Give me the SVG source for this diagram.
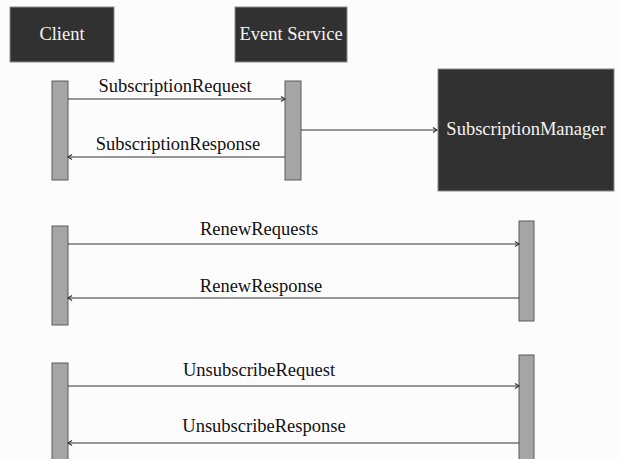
<svg xmlns="http://www.w3.org/2000/svg" width="620" height="459" viewBox="0 0 620 459">
<style>
.box{fill:#313131;stroke:#8a8a8a;stroke-width:1}
.bar{fill:#a5a5a5;stroke:#5a5a5a;stroke-width:1}
.wt{fill:#f4f4f4;font-family:"Liberation Serif",serif;font-size:18.5px;text-anchor:middle}
.lbl{fill:#111;font-family:"Liberation Serif",serif;font-size:18.5px;text-anchor:middle}
.msg{stroke:#333;stroke-width:1.2;fill:none;marker-end:url(#ah)}
</style>
<defs>
<marker id="ah" viewBox="0 0 8 8" refX="7" refY="4" markerWidth="8" markerHeight="8" markerUnits="userSpaceOnUse" orient="auto">
<polyline points="3,1.5 7,4 3,6.5" fill="none" stroke="#333" stroke-width="1.2"/>
</marker>
</defs>
<rect width="620" height="459" fill="#fcfcfc"/>
<g id="client">
<rect class="box" x="10" y="7" width="104" height="55"/>
<text class="wt" x="62" y="40">Client</text>
</g>
<g id="event-service">
<rect class="box" x="235" y="7" width="112" height="55"/>
<text class="wt" x="291" y="40">Event Service</text>
</g>
<g id="subscription-manager">
<rect class="box" x="438" y="69" width="176" height="122"/>
<text class="wt" x="526" y="135">SubscriptionManager</text>
</g>
<g id="client-bar-1"><rect class="bar" x="52" y="81" width="16" height="99"/></g>
<g id="es-bar-1"><rect class="bar" x="285" y="81" width="16" height="99"/></g>
<g id="client-bar-2"><rect class="bar" x="52" y="226" width="16" height="99"/></g>
<g id="sm-bar-2"><rect class="bar" x="519" y="221" width="15" height="100"/></g>
<g id="client-bar-3"><rect class="bar" x="52" y="363" width="16" height="100"/></g>
<g id="sm-bar-3"><rect class="bar" x="519" y="355" width="15" height="108"/></g>
<g id="connectors">
<line class="msg" x1="68" y1="99" x2="285" y2="99"/>
<line class="msg" x1="285" y1="157" x2="68" y2="157"/>
<line class="msg" x1="301" y1="130" x2="437" y2="130"/>
<line class="msg" x1="68" y1="244" x2="519" y2="244"/>
<line class="msg" x1="519" y1="298" x2="68" y2="298"/>
<line class="msg" x1="68" y1="386" x2="519" y2="386"/>
<line class="msg" x1="519" y1="443" x2="68" y2="443"/>
</g>
<g id="labels">
<text class="lbl" x="175" y="92">SubscriptionRequest</text>
<text class="lbl" x="178" y="150">SubscriptionResponse</text>
<text class="lbl" x="259" y="235">RenewRequests</text>
<text class="lbl" x="261" y="292">RenewResponse</text>
<text class="lbl" x="259" y="376">UnsubscribeRequest</text>
<text class="lbl" x="264" y="432">UnsubscribeResponse</text>
</g>
</svg>
